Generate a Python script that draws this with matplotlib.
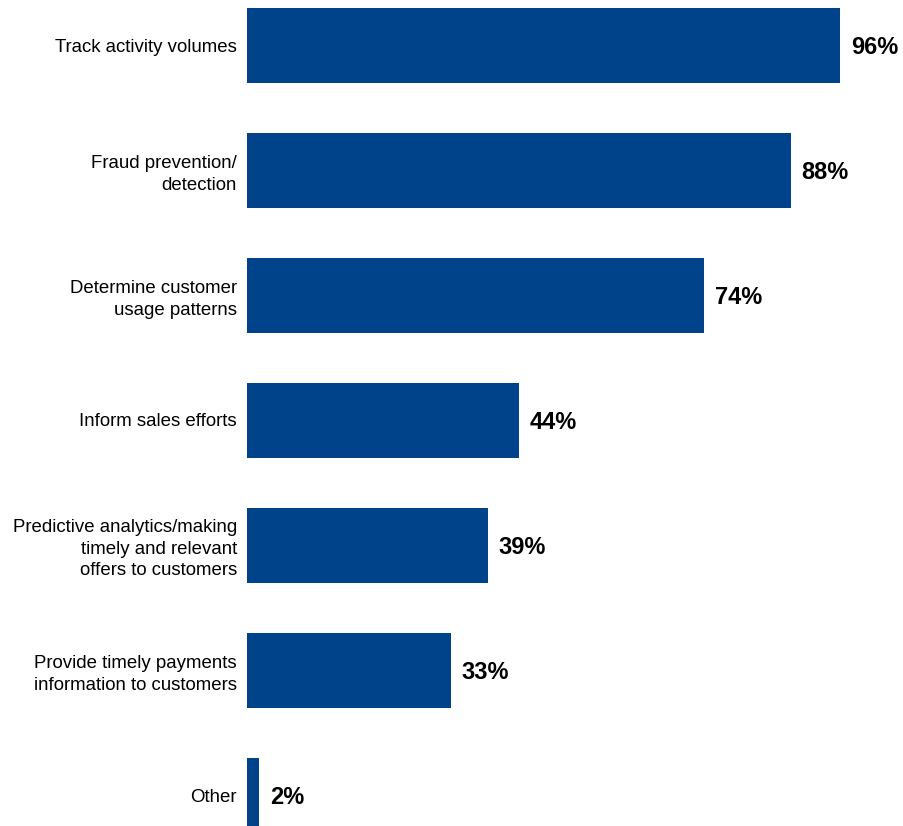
import matplotlib
matplotlib.use("Agg")
import matplotlib.pyplot as plt

categories = [
    "Track activity volumes",
    "Fraud prevention/\ndetection",
    "Determine customer\nusage patterns",
    "Inform sales efforts",
    "Predictive analytics/making\ntimely and relevant\noffers to customers",
    "Provide timely payments\ninformation to customers",
    "Other",
]
values = [96, 88, 74, 44, 39, 33, 2]
value_labels = ["96%", "88%", "74%", "44%", "39%", "33%", "2%"]

plt.rcParams["font.family"] = ["Liberation Sans", "DejaVu Sans"]

fig = plt.figure(figsize=(9.04, 8.26), dpi=100)
ax = fig.add_axes([247 / 904, 0, 657 / 904, 1])

pos = list(range(len(categories)))
bars = ax.barh(pos, values, height=0.6, color="#00438A")

for b, lab in zip(bars, value_labels):
    ax.annotate(lab, (b.get_width(), b.get_y() + b.get_height() / 2),
                xytext=(7.5, -1.5), textcoords="offset points",
                va="center", ha="left", fontsize=17, fontweight="bold")

ax.set_yticks(pos)
ax.set_yticklabels(categories, fontsize=13.4, linespacing=1.35)
ax.tick_params(axis="y", length=0, pad=7.2)
ax.set_xticks([])
ax.set_xlim(0, 657 / 6.18)
ax.set_ylim(6.248, -0.36)
for s in ax.spines.values():
    s.set_visible(False)

fig.savefig("out.png", dpi=100)
